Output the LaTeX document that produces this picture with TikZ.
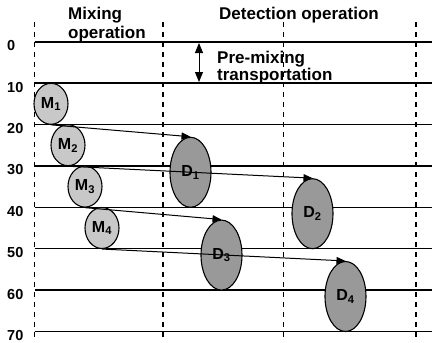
\documentclass[tikz,border=0pt]{standalone}
\usepackage{fontspec}
\setmainfont{Liberation Sans}
\usetikzlibrary{positioning,arrows.meta,shapes.geometric}
\definecolor{mixfill}{RGB}{200,200,200}
\definecolor{detfill}{RGB}{153,153,153}
\tikzset{
    mixop/.style={ellipse, draw=black, fill=mixfill, line width=1.1pt, inner sep=0pt, minimum width=34pt, minimum height=41pt, font=\fontsize{16}{16}\selectfont\bfseries},
    detop/.style={ellipse, draw=black, fill=detfill, line width=1.1pt, inner sep=0pt, minimum width=41pt, minimum height=70pt, font=\fontsize{16}{16}\selectfont\bfseries},
    timeline/.style={line width=1.4pt},
    lane/.style={line width=1.3pt, dash pattern=on 5pt off 5pt},
    arrow/.style={-{Triangle[length=9pt,width=7pt]}, line width=1pt},
    twoway/.style={{Triangle[length=10pt,width=8pt]}-{Triangle[length=10pt,width=8pt]}, line width=1pt},
    header/.style={font=\fontsize{17}{19}\selectfont\bfseries, align=left, inner sep=0pt, anchor=north west},
    tick/.style={font=\fontsize{14.5}{15}\selectfont\bfseries, inner sep=0pt, anchor=base west}
}

\begin{document}
\begin{tikzpicture}[x=1pt,y=-1pt]
\useasboundingbox (0,0) rectangle (432,343);
% lanes
\foreach \x in {34.5,163,283.7,416}
    \draw[lane] (\x,22) -- (\x,341);
% time axis
\foreach \t in {0,10,...,70}{
    \pgfmathsetmacro{\yy}{41.7+4.14*\t}
    \draw[timeline] (34.5,\yy) -- (432,\yy);
    \node[tick] at (7,\yy+9) {\t};
}
\draw[line width=1.8pt] (34.5,41.7) -- (432,41.7);
\draw[line width=1.8pt] (34.5,331.5) -- (432,331.5);
% headings
\node[header] (mixhead) at (68,7) {Mixing\\operation};
\node[header] (dethead) at (219,7) {Detection operation};
\node[header, font=\fontsize{17}{17}\selectfont\bfseries] (premix) at (217,51) {Pre-mixing\\transportation};
\coordinate (pmtop) at (199,43);
\coordinate (pmbot) at (199,82);
\draw[twoway] (pmtop) -- (pmbot);
% mixing and detection steps
\foreach \i/\x/\t in {1/51/15,2/68/25,3/85/35,4/102/45}
    \node[mixop] (m\i) at (\x,{41.7+4.14*\t}) {M\textsubscript{\i}};
\foreach \i/\x/\t in {1/190.5/40,2/312.5/50,3/221.5/60,4/345.5/70}
    \node[detop] (d\i) at (\x,{41.7+4.14*\t-35}) {D\textsubscript{\i}};
\foreach \i in {1,...,4}
    \draw[arrow] (m\i.south) -- (d\i.north);
\end{tikzpicture}
\end{document}
